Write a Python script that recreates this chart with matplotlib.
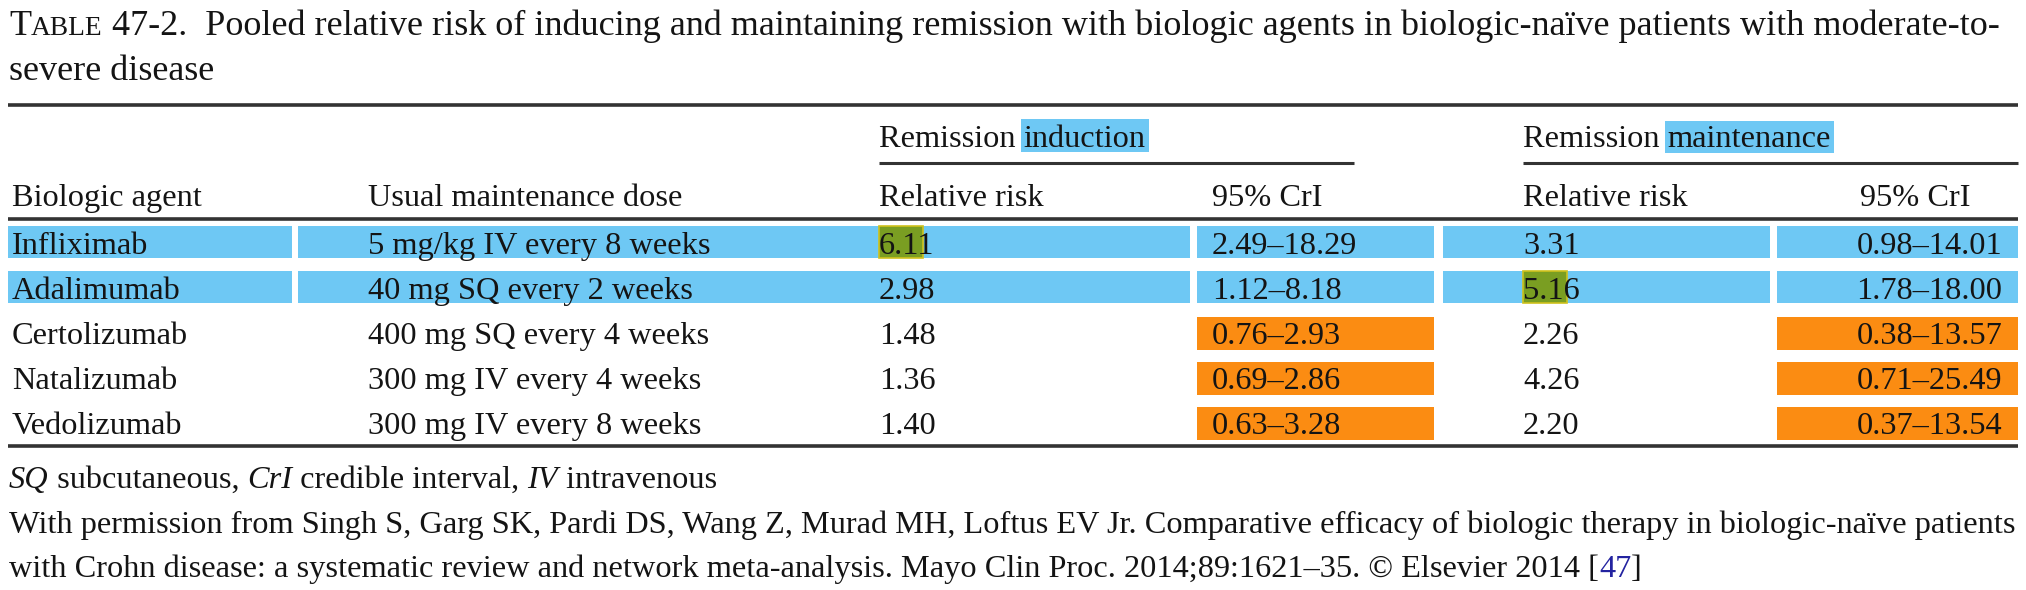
import matplotlib
matplotlib.use("Agg")
import matplotlib.pyplot as plt
from matplotlib.patches import Rectangle

# table data
agents = ["Infliximab", "Adalimumab", "Certolizumab", "Natalizumab", "Vedolizumab"]
doses = ["5 mg/kg IV every 8 weeks", "40 mg SQ every 2 weeks", "400 mg SQ every 4 weeks",
         "300 mg IV every 4 weeks", "300 mg IV every 8 weeks"]
ind_rr = [6.11, 2.98, 1.48, 1.36, 1.40]
ind_lo = [2.49, 1.12, 0.76, 0.69, 0.63]
ind_hi = [18.29, 8.18, 2.93, 2.86, 3.28]
mnt_rr = [3.31, 5.16, 2.26, 4.26, 2.20]
mnt_lo = [0.98, 1.78, 0.38, 0.71, 0.37]
mnt_hi = [14.01, 18.00, 13.57, 25.49, 13.54]

col_heads = ["Biologic agent", "Usual maintenance dose", "Relative risk", "95% CrI", "Relative risk", "95% CrI"]
title_text = "47-2.  Pooled relative risk of inducing and maintaining remission with biologic agents in biologic-na\u00efve patients with moderate-to-"
title_text2 = "severe disease"
source1 = "With permission from Singh S, Garg SK, Pardi DS, Wang Z, Murad MH, Loftus EV Jr. Comparative efficacy of biologic therapy in biologic-na\u00efve patients"
source2 = "with Crohn disease: a systematic review and network meta-analysis. Mayo Clin Proc. 2014;89:1621\u201335. \u00a9 Elsevier 2014 ["

# marker highlights
blue_rows = [0, 1]
orange_rows = [2, 3, 4]

BLUE = "#6ec8f4"
ORANGE = "#fb8c12"
GREEN = "#7a9e22"
INK = "#141414"
RULE = "#333333"
FS = 23.3
TFS = 26

fig = plt.figure(figsize=(20.26, 5.9), dpi=100)
ax = fig.add_axes([0, 0, 1, 1])
ax.set_xlim(0, 2026)
ax.set_ylim(590, 0)
ax.axis("off")
fig.canvas.draw()
renderer = fig.canvas.get_renderer()

base = dict(family="Liberation Serif", color=INK, fontsize=FS)


def text_width(s, **kw):
    a = ax.text(0, 0, "|" + s + "|", **kw)
    b = ax.text(0, 0, "||", **kw)
    w = a.get_window_extent(renderer).width - b.get_window_extent(renderer).width
    a.remove()
    b.remove()
    return w


def runs(x, y, parts):
    for s, kw in parts:
        props = {**base, **kw}
        ax.text(x, y, s, va="baseline", zorder=5, **props)
        x += text_width(s, **props)
    return x


def put(x, y, s, ha="left", **kw):
    ax.text(x, y, s, va="baseline", ha=ha, zorder=5, **{**base, **kw})


def rule(x0, x1, y, lw=2.2):
    ax.plot([x0, x1], [y, y], color=RULE, lw=lw, solid_capstyle="butt", zorder=4)


# title
runs(9, 35, [("T", {"fontsize": TFS}), ("ABLE", {"fontsize": TFS * 0.76}),
             (" " + title_text, {"fontsize": TFS})])
put(9, 80, title_text2, fontsize=TFS)

# rules
rule(8, 2018, 105, 2.6)
rule(879, 1354, 163)
rule(1523, 2018, 163)
rule(8, 2018, 219, 2.6)
rule(8, 2018, 446, 2.6)

# header highlights
x_ind = runs(879, 147, [("Remission ", {})])
w = text_width("induction", **base)
ax.add_patch(Rectangle((x_ind - 3, 119), w + 6, 33, color=BLUE, zorder=2, lw=0))
runs(x_ind, 147, [("induction", {})])
x_mnt = runs(1523, 147, [("Remission ", {})])
w = text_width("maintenance", **base)
ax.add_patch(Rectangle((x_mnt - 3, 121), w + 6, 32, color=BLUE, zorder=2, lw=0))
runs(x_mnt, 147, [("maintenance", {})])

# column headers
hy = 206
put(12, hy, col_heads[0])
put(368, hy, col_heads[1])
put(879, hy, col_heads[2])
put(1212, hy, col_heads[3])
put(1523, hy, col_heads[4])
put(1970, hy, col_heads[5], ha="right")

# body
segments = [(8, 292), (298, 1190), (1197, 1434), (1443, 1770), (1777, 2018)]
for i in range(len(agents)):
    y = 254 + 45 * i
    if i in blue_rows:
        for x0, x1 in segments:
            ax.add_patch(Rectangle((x0, y - 28), x1 - x0, 32, color=BLUE, zorder=1, lw=0))
    if i in orange_rows:
        for x0, x1 in [segments[2], segments[4]]:
            ax.add_patch(Rectangle((x0, y - 27), x1 - x0, 33, color=ORANGE, zorder=1, lw=0))
    put(12, y, agents[i])
    put(368, y, doses[i])
    put(879, y, f"{ind_rr[i]:.2f}")
    put(1212, y, f"{ind_lo[i]:.2f}\u2013{ind_hi[i]:.2f}")
    put(1523, y, f"{mnt_rr[i]:.2f}")
    put(2002, y, f"{mnt_lo[i]:.2f}\u2013{mnt_hi[i]:.2f}", ha="right")

# partial green marks over the first digits
for x, i, val in [(879, 0, ind_rr[0]), (1523, 1, mnt_rr[1])]:
    y = 254 + 45 * i
    w = text_width(f"{val:.2f}"[:3], **base)
    ax.add_patch(Rectangle((x, y - 28), w + 3, 32, facecolor=GREEN, edgecolor="#cfc21c",
                           lw=1.2, zorder=3))

# footnotes
it = {"style": "italic"}
runs(9, 488, [("SQ", it), (" subcutaneous, ", {}), ("CrI", it), (" credible interval, ", {}),
              ("IV", it), (" intravenous", {})])
put(9, 533, source1)
runs(9, 577, [(source2, {}), ("47", {"color": "#2323a0"}), ("]", {})])

fig.savefig("out.png", dpi=100)
